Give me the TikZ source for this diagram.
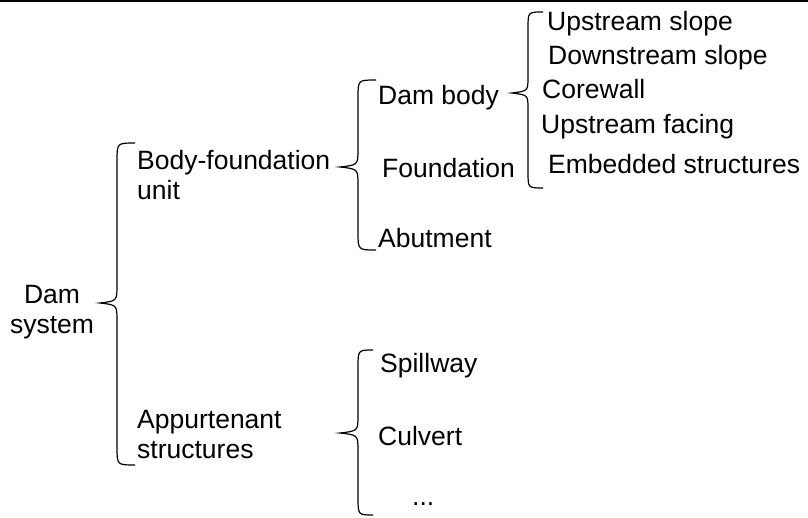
\documentclass[tikz,border=0pt]{standalone}
\usepackage{fontspec}
\setmainfont{Liberation Sans}
\usepackage{tikz}

% curly brace: end x, stem x, tip x, top y, tip y, bottom y, bend
\newcommand{\dambrace}[7]{%
	\draw[brace] (#1,#4) .. controls (#2,#4) .. (#2,#4+#7) -- (#2,#5-#7)
		.. controls (#2,#5-2) .. (#3,#5) .. controls (#2,#5+2) .. (#2,#5+#7)
		-- (#2,#6-#7) .. controls (#2,#6) .. (#1,#6);}

\begin{document}
\begin{tikzpicture}[x=1pt,y=-1pt,
	brace/.style={line width=1.2pt},
	item/.style={inner sep=0pt,font=\fontsize{26.5}{30}\selectfont}]
	\useasboundingbox (0,0) rectangle (808,518);
	\draw[line width=1.6pt] (0,0.8) -- (808,0.8);

	\node[item,anchor=north,align=center] (dam) at (52,285) {Dam\\system};

	\node[item,anchor=north west,align=left] (unit) at (137,150) {Body-foundation\\unit};
	\node[item,anchor=north west,align=left] (appurt) at (137,410) {Appurtenant\\structures};

	\node[item,anchor=base west] (body) at (378,105) {Dam body};
	\node[item,anchor=base west] (found) at (382,178) {Foundation};
	\node[item,anchor=base west] (abut) at (378,248) {Abutment};

	\node[item,anchor=base west] (spill) at (380,372) {Spillway};
	\node[item,anchor=base west] (culv) at (378,445) {Culvert};
	\node[item,anchor=base west] (more) at (412,505) {...};

	\node[item,anchor=base west] (upslope) at (547,31) {Upstream slope};
	\node[item,anchor=base west] (downslope) at (548,65) {Downstream slope};
	\node[item,anchor=base west] (core) at (542,99) {Corewall};
	\node[item,anchor=base west] (facing) at (541,134) {Upstream facing};
	\node[item,anchor=base west] (embed) at (548,174) {Embedded structures};

	\dambrace{135}{117}{100}{143}{303}{465}{18}
	\dambrace{376}{358}{340}{80}{167}{250}{18}
	\dambrace{543}{528}{512}{12}{93}{188}{16}
	\dambrace{373}{358}{340}{350}{433}{515}{18}
\end{tikzpicture}
\end{document}
